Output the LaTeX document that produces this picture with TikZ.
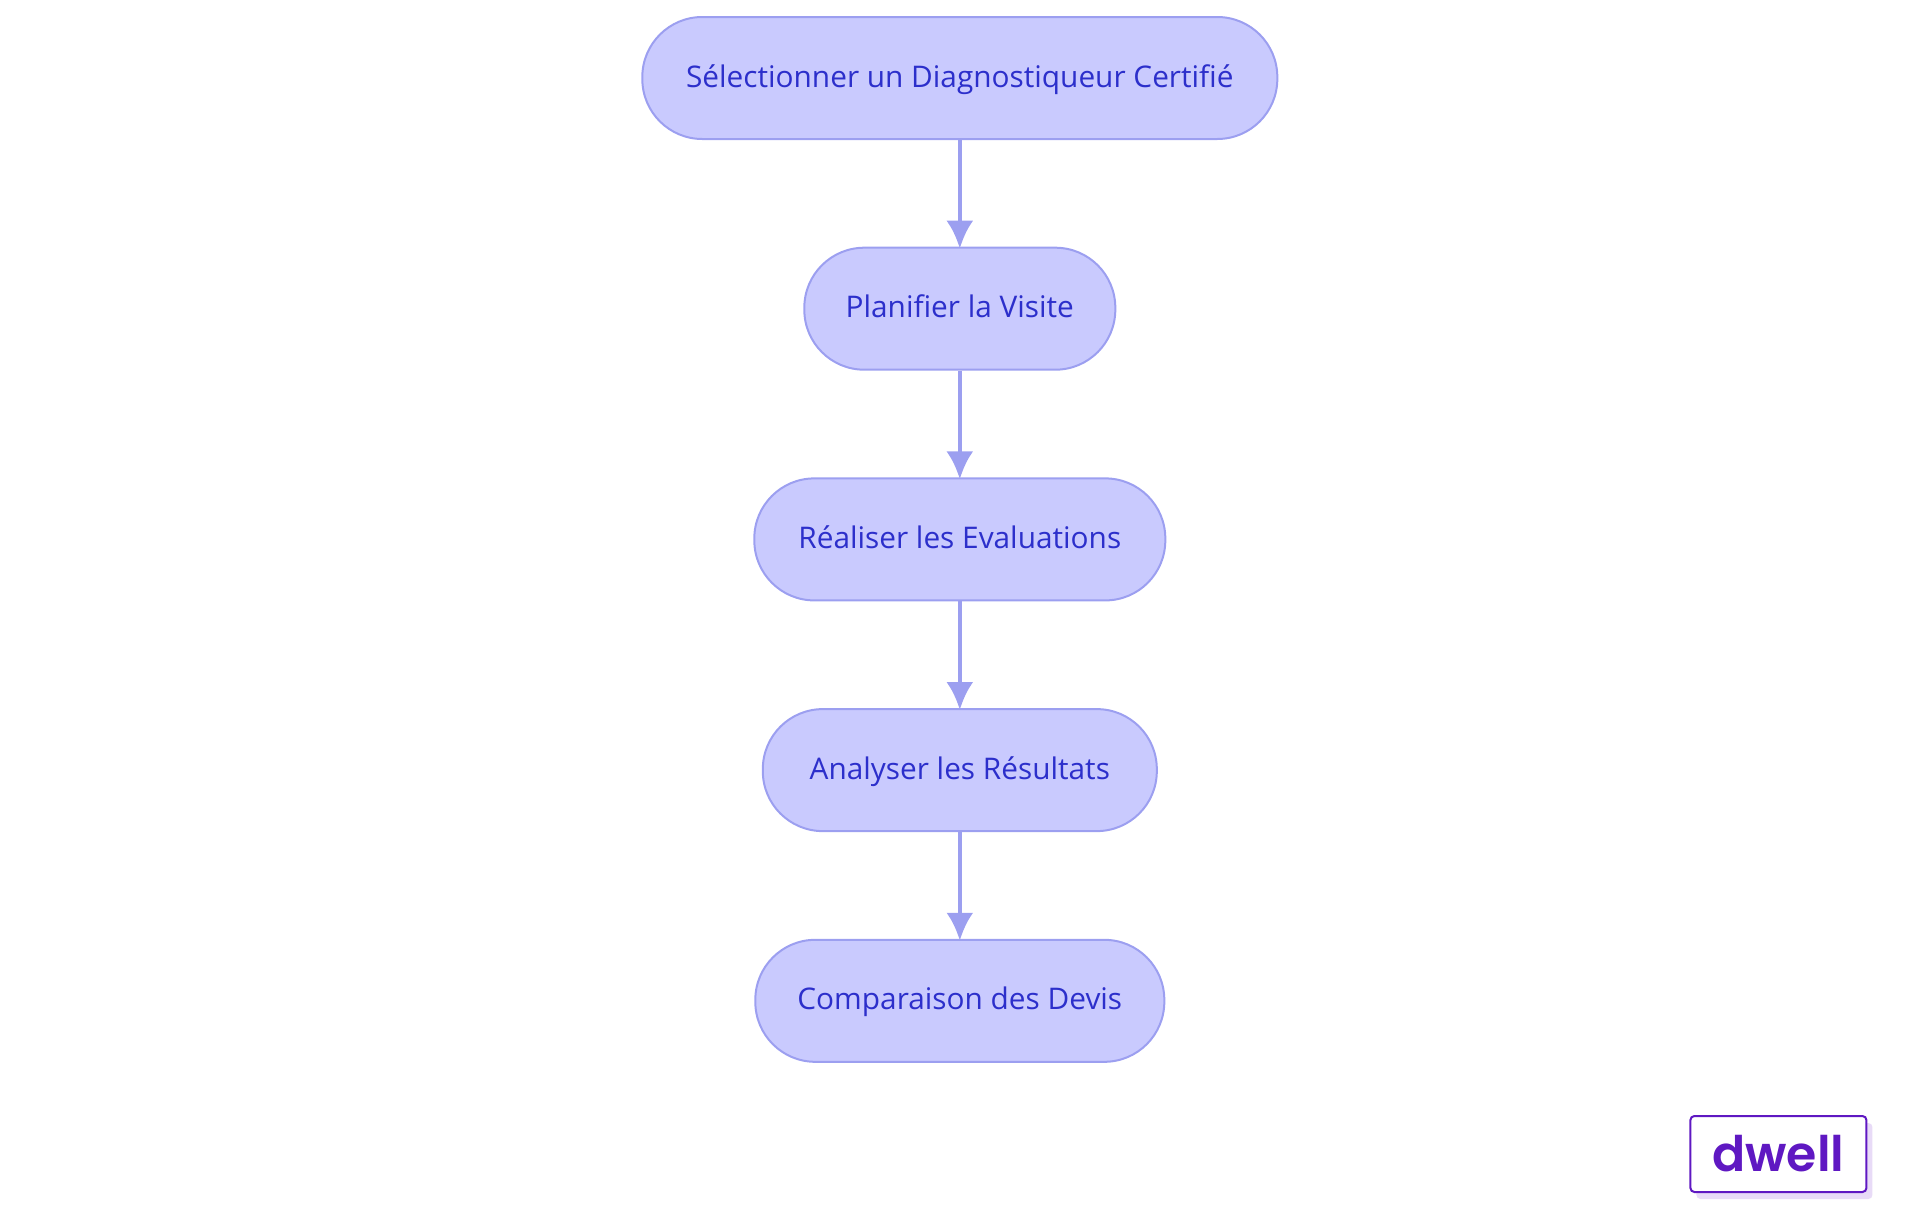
\documentclass[tikz,border=0pt]{standalone}
\usepackage{fontspec}
\setmainfont{Open Sans}
\newfontfamily\logofont{Poppins SemiBold}
\usetikzlibrary{arrows.meta,shadows}
\definecolor{f}{HTML}{C9CAFE}
\definecolor{s}{HTML}{9C9FF0}
\definecolor{t}{HTML}{2C2FCB}
\definecolor{p}{HTML}{5F18C2}
\definecolor{q}{HTML}{E8DBF7}
\tikzstyle{every flow}=[draw=s,fill=f,line width=1pt,text=t,rounded corners=30pt,minimum height=61pt,inner sep=0pt,text height=11.5pt,text depth=2.5pt,font=\fontsize{14.9pt}{17pt}\selectfont]

\begin{document}
\begin{tikzpicture}[-{Latex[length=14pt,width=13.5pt]},>=latex,node distance=115.35pt]

				\useasboundingbox (0,0) rectangle (960pt,-607.5pt);

				\draw  node [every flow,minimum width=317.5pt] at (479.9pt,-39pt) (sel) {Sélectionner un Diagnostiqueur Certifié};
				\draw  node [every flow,minimum width=155.5pt,below of=sel] (plan) {Planifier la Visite};
				\draw  node [every flow,minimum width=205.5pt,below of=plan] (real) {Réaliser les Evaluations};
				\draw  node [every flow,minimum width=197pt,below of=real] (ana) {Analyser les Résultats};
				\draw  node [every flow,minimum width=204.5pt,below of=ana] (comp) {Comparaison des Devis};

				\draw  node [-,draw=p,fill=white,line width=1pt,rounded corners=2pt,minimum width=88pt,minimum height=38pt,inner sep=0pt,copy shadow={shadow xshift=3pt,shadow yshift=-3.5pt,fill=q,draw=none},text=p,font=\logofont\fontsize{24.5pt}{28pt}\selectfont] at (889.2pt,-577pt) (logo) {dwell};

				\path
				(sel) edge[draw=s,line width=2.25pt,shorten >=-1pt] (plan)
				(plan) edge[draw=s,line width=2.25pt,shorten >=-1pt] (real)
				(real) edge[draw=s,line width=2.25pt,shorten >=-1pt] (ana)
				(ana) edge[draw=s,line width=2.25pt,shorten >=-1pt] (comp)
				;
			\end{tikzpicture}
\end{document}
